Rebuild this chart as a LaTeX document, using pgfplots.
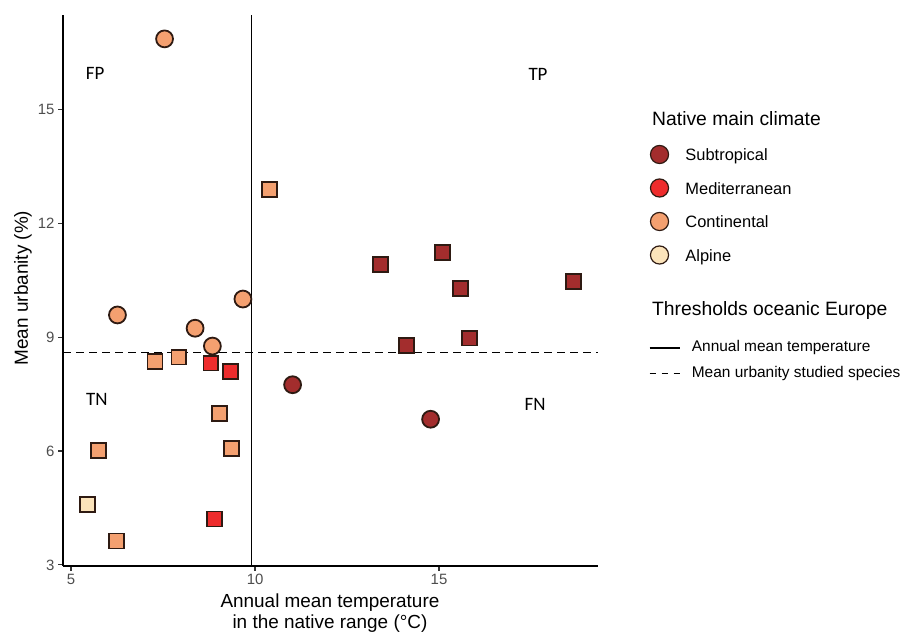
\documentclass[border=0pt]{standalone}
\usepackage{pgfplots}
\pgfplotsset{compat=1.18}
\usepackage{fontspec}
\setmainfont{Liberation Sans}
\newfontfamily\calib{Carlito}
\definecolor{subt}{HTML}{A32D2D}
\definecolor{medi}{HTML}{EE2C2C}
\definecolor{cont}{HTML}{F4A070}
\definecolor{alp}{HTML}{FBE3BA}
\definecolor{edgec}{HTML}{2E1A12}
\definecolor{tickgray}{HTML}{4D4D4D}
\newcommand{\st}[2]{\rule[-#2]{0pt}{\dimexpr#1+#2\relax}}
\pgfplotsset{
  circ/.style={only marks, mark=*, mark size=8.45bp, mark options={draw=edgec, line width=1.8bp, fill=#1}, forget plot},
  sq/.style={only marks, mark=square*, mark size=7.45bp, mark options={draw=edgec, line width=1.8bp, fill=#1}, forget plot},
  legmark/.style={legend image code/.code={\draw[mark=*, mark size=9.05bp, mark options={draw=edgec, fill=#1, line width=1.2bp, solid}] plot coordinates {(0bp,6.5bp)};}},
}
\begin{document}
\begin{tikzpicture}
\path[use as bounding box] (-63bp,-66bp) rectangle (839bp,566bp);
\begin{axis}[
  at={(0,0)}, anchor=south west,
  scale only axis, width=535bp, height=551bp,
  xmin=4.78, xmax=19.32, ymin=2.97, ymax=17.5,
  axis x line=bottom, axis y line=left,
  axis line style={-, line width=1.5bp, black},
  xtick={5,10,15}, ytick={3,6,9,12,15},
  tick align=outside, major tick length=5bp,
  tick style={line width=1.2bp, color=black!80},
  tick label style={font=\fontsize{15}{18}\selectfont, color=tickgray},
  /pgf/number format/assume math mode=true,
  xlabel={Annual mean temperature\\in the native range (°C)},
  x label style={at={(axis description cs:0.499,-0.0497)}, anchor=north, inner sep=0pt, align=center, font=\fontsize{19}{21}\selectfont},
  ylabel={Mean urbanity (\%)},
  y label style={at={(axis description cs:-0.0579,0.5045)}, anchor=south, inner sep=0pt, font=\fontsize{19}{21}\selectfont},
  clip=false,
  legend cell align=left,
  legend style={at={(axis description cs:1.0951,0.83485)}, anchor=north west, draw=none, fill=none,
    inner sep=0pt, outer sep=0pt, row sep=0pt, column sep=5.3bp,
    nodes={inner sep=0pt, anchor=base west, text depth=, text height=}, font=\fontsize{16.5}{19}\selectfont},
]
% thresholds
\addplot[black, line width=1.7bp, forget plot] coordinates {(9.9,2.97) (9.9,17.5)};
\addplot[black, line width=1.6bp, dash pattern=on 8bp off 5bp, forget plot] coordinates {(4.78,8.6) (19.32,8.6)};
% Continental
\addplot[circ=cont] coordinates {(7.54,16.87) (9.67,10.01) (6.26,9.59) (8.37,9.24) (8.84,8.77)};
\addplot[sq=cont] coordinates {(10.39,12.90) (7.28,8.36) (7.93,8.48) (9.04,6.99) (5.75,6.01) (9.35,6.07) (6.23,3.63)};
% Alpine
\addplot[sq=alp] coordinates {(5.44,4.60)};
% Mediterranean
\addplot[sq=medi] coordinates {(8.80,8.32) (9.33,8.09) (8.89,4.21)};
% Subtropical
\addplot[circ=subt] coordinates {(11.02,7.75) (14.77,6.84)};
\addplot[sq=subt] coordinates {(13.40,10.92) (15.09,11.24) (15.58,10.28) (18.66,10.48) (14.12,8.79) (15.82,8.98)};
% quadrant labels
\node[font=\calib\fontsize{19}{22}\selectfont] at (axis cs:5.652,15.97) {FP};
\node[font=\calib\fontsize{19}{22}\selectfont] at (axis cs:17.69,15.92) {TP};
\node[font=\calib\fontsize{19}{22}\selectfont] at (axis cs:5.70,7.35) {TN};
\node[font=\calib\fontsize{19}{22}\selectfont] at (axis cs:17.61,7.22) {FN};
% legend
\addlegendimage{empty legend}
\addlegendentry{\hspace*{-33.3bp}\fontsize{19.4}{22}\selectfont Native main climate\st{20bp}{8bp}}
\addlegendimage{legmark=subt}
\addlegendentry{Subtropical\st{27bp}{8bp}}
\addlegendimage{legmark=medi}
\addlegendentry{Mediterranean\st{25.5bp}{8bp}}
\addlegendimage{legmark=cont}
\addlegendentry{Continental\st{25.5bp}{8bp}}
\addlegendimage{legmark=alp}
\addlegendentry{Alpine\st{25.5bp}{8bp}}
\addlegendimage{empty legend}
\addlegendentry{\hspace*{-33.3bp}\fontsize{19.4}{22}\selectfont Thresholds oceanic Europe\st{46.2bp}{5bp}}
\addlegendimage{legend image code/.code={\draw[black, line width=1.3bp] plot coordinates {(-10bp,3.7bp) (20bp,3.7bp)};}}
\addlegendentry{\hspace*{6.4bp}\fontsize{15.5}{18}\selectfont Annual mean temperature\st{31bp}{5bp}}
\addlegendimage{legend image code/.code={\draw[black, line width=1.3bp, dash pattern=on 6bp off 6bp] plot coordinates {(-10bp,3.7bp) (20bp,3.7bp)};}}
\addlegendentry{\hspace*{6.4bp}\fontsize{15.5}{18}\selectfont Mean urbanity studied species\st{20.6bp}{5bp}}
\end{axis}
\end{tikzpicture}
\end{document}
